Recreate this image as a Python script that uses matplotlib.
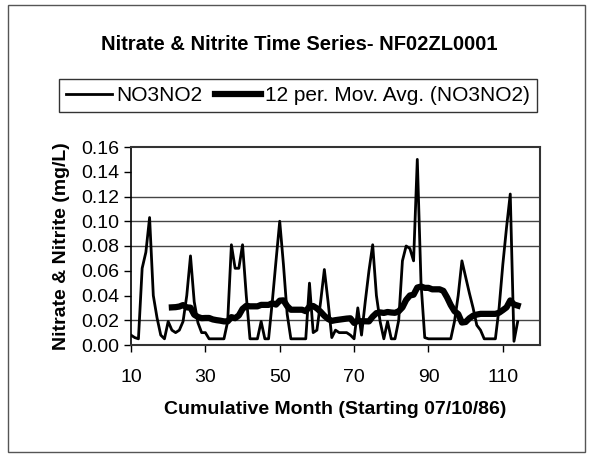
import numpy as np
import pandas as pd
import matplotlib
matplotlib.use("Agg")
import matplotlib.pyplot as plt
from matplotlib.patches import Rectangle

plt.rcParams["font.family"] = ["Liberation Sans", "DejaVu Sans"]

# cumulative month and NO3NO2 concentration (mg/L)
months = list(range(10, 115))
no3no2 = [
    0.008, 0.006, 0.005, 0.062, 0.075, 0.103, 0.040, 0.022, 0.008, 0.005,  # 10-19
    0.019, 0.012, 0.010, 0.012, 0.019, 0.040, 0.072, 0.035, 0.018, 0.010,  # 20-29
    0.010, 0.005, 0.005, 0.005, 0.005, 0.005, 0.019, 0.081, 0.062, 0.062,  # 30-39
    0.081, 0.040, 0.005, 0.005, 0.005, 0.019, 0.005, 0.005, 0.035, 0.068,  # 40-49
    0.100, 0.065, 0.025, 0.005, 0.005, 0.005, 0.005, 0.005, 0.050, 0.010,  # 50-59
    0.012, 0.035, 0.061, 0.035, 0.006, 0.012, 0.010, 0.010, 0.010, 0.008,  # 60-69
    0.005, 0.030, 0.008, 0.035, 0.060, 0.081, 0.040, 0.019, 0.005, 0.019,  # 70-79
    0.005, 0.005, 0.020, 0.068, 0.080, 0.078, 0.068, 0.150, 0.050, 0.006,  # 80-89
    0.005, 0.005, 0.005, 0.005, 0.005, 0.005, 0.005, 0.019, 0.040, 0.068,  # 90-99
    0.055, 0.042, 0.030, 0.016, 0.012, 0.005, 0.005, 0.005, 0.005, 0.030,  # 100-109
    0.065, 0.095, 0.122, 0.003, 0.019,                                     # 110-114
]

x_ticks = [10, 30, 50, 70, 90, 110]
y_ticks = [0.00, 0.02, 0.04, 0.06, 0.08, 0.10, 0.12, 0.14, 0.16]
grid_levels = [0.02, 0.08, 0.10, 0.12]  # only these survive in the scan

series = pd.Series(no3no2, index=months)
mov_avg = series.rolling(12).mean()

fig = plt.figure(figsize=(5.91, 4.66), dpi=100)
ax = fig.add_axes([131 / 591, 1 - 345 / 466, 409 / 591, 198 / 466])

# outer chart border
fig.patches.append(Rectangle((8 / 591, 1 - 452 / 466), 577 / 591, 447 / 466,
                             transform=fig.transFigure, fill=False,
                             edgecolor="#555555", linewidth=1))

for g in grid_levels:
    ax.axhline(g, color="#444444", linewidth=1, zorder=1)

ax.plot(series.index, series.values, color="black", linewidth=2,
        label="NO3NO2", zorder=3)
ax.plot(mov_avg.index, mov_avg.values, color="black", linewidth=4.5,
        label="12 per. Mov. Avg. (NO3NO2)", zorder=4)

ax.set_xlim(10, 120)
ax.set_ylim(0, 0.16)
ax.set_xticks(x_ticks)
ax.set_yticks(y_ticks)
ax.set_yticklabels([f"{v:.2f}" for v in y_ticks])
ax.tick_params(axis="both", labelsize=14, direction="out", length=5, width=1)
ax.tick_params(axis="x", pad=12)

for side in ["top", "right", "bottom"]:
    ax.spines[side].set_linestyle((0, (2, 1)))
    ax.spines[side].set_color("#333333")
    ax.spines[side].set_linewidth(1.5)
ax.spines["left"].set_linewidth(1.2)

ax.set_xlabel("Cumulative Month (Starting 07/10/86)", fontsize=14,
              fontweight="bold", labelpad=11)
ax.set_ylabel("Nitrate & Nitrite (mg/L)", fontsize=14, fontweight="bold",
              labelpad=8)

fig.text(0.506, 1 - 45 / 466, "Nitrate & Nitrite Time Series- NF02ZL0001",
         ha="center", va="center", fontsize=14.5, fontweight="bold")

leg = fig.legend(loc="center", bbox_to_anchor=(0.504, 1 - 95.5 / 466), ncol=2,
                 fontsize=15, frameon=True, fancybox=False, edgecolor="black",
                 handlelength=2.2, handletextpad=0.2, columnspacing=0.6,
                 borderpad=0.35)
leg.get_frame().set_linewidth(1)

fig.savefig("out.png", dpi=100)
